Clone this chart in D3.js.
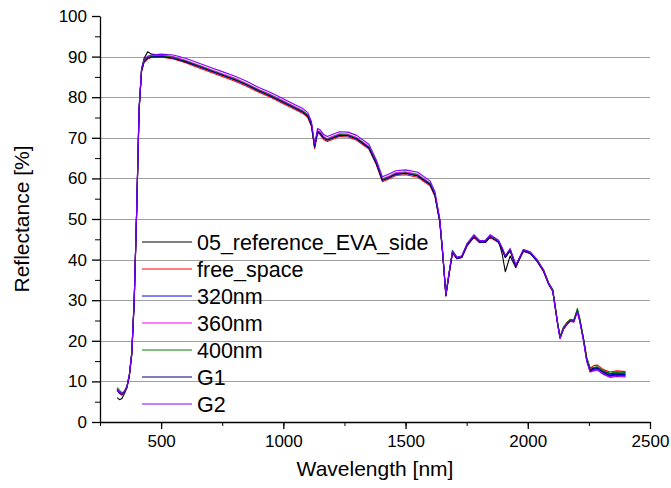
<!DOCTYPE html>
<html>
<head>
<meta charset="utf-8">
<script src="https://cdn.jsdelivr.net/npm/d3@7"></script>
<style>
  html, body { margin: 0; padding: 0; background: #fff; }
  svg { display: block; font-family: "Liberation Sans", Arial, sans-serif; }
  .grid line { stroke: #a0a0a0; stroke-width: 1; }
  .axis path, .axis line { stroke: #000; }
  .axis text { fill: #000; font-size: 17px; font-family: "Liberation Sans", Arial, sans-serif; }
</style>
</head>
<body>
<svg id="chart" width="671" height="488"></svg>
<script>
// wavelength grid shared by all spectra [nm]
const wavelengths = [
  320, 330, 340, 350, 360, 370, 380, 390, 400, 410,
  420, 430, 445, 460, 500, 550, 600, 650, 700, 750,
  800, 850, 900, 950, 1000, 1050, 1080, 1100, 1115, 1128,
  1140, 1150, 1165, 1180, 1200, 1230, 1265, 1300, 1350, 1380,
  1405, 1430, 1460, 1500, 1550, 1600, 1620, 1640, 1652, 1665,
  1678, 1692, 1710, 1730, 1752, 1780, 1803, 1826, 1846, 1880,
  1895, 1908, 1928, 1951, 1982, 2010, 2037, 2064, 2085, 2102,
  2112, 2122, 2132, 2146, 2162, 2175, 2188, 2203, 2213, 2228,
  2241, 2255, 2270, 2285, 2310, 2336, 2364, 2400
];

// reflectance [%] per sample
const refEvaSide = [
  6.0, 5.5, 5.8, 7.0, 8.4, 11.2, 16.5, 29.5, 51.5, 77.0,
  87.0, 89.5, 91.2, 90.6, 90.3, 89.8, 88.9, 87.8, 86.7, 85.6,
  84.5, 83.2, 81.7, 80.4, 78.9, 77.4, 76.5, 75.5, 73.3, 67.9,
  71.6, 71.3, 70.1, 69.6, 70.1, 70.8, 70.7, 69.9, 67.7, 63.9,
  59.7, 60.3, 61.2, 61.4, 60.8, 58.7, 56.1, 49.6, 41.6, 31.3,
  36.6, 42.0, 40.4, 40.7, 43.8, 45.9, 44.5, 44.5, 45.9, 44.6,
  41.5, 37.0, 40.9, 38.0, 42.4, 41.8, 40.0, 37.5, 34.3, 32.6,
  28.6, 24.5, 20.9, 23.2, 24.5, 25.2, 25.0, 27.6, 25.2, 20.5,
  15.6, 12.9, 13.3, 13.5, 12.5, 11.9, 12.1, 12.0
];
const freeSpace = [
  7.8, 7.0, 6.6, 7.2, 8.5, 11.3, 16.8, 29.8, 51.8, 76.8,
  86.3, 88.5, 89.4, 89.8, 89.9, 89.4, 88.5, 87.3, 86.2, 85.1,
  84.0, 82.7, 81.2, 79.9, 78.4, 76.9, 76.0, 75.0, 72.8, 67.3,
  71.1, 70.8, 69.6, 69.1, 69.6, 70.3, 70.2, 69.4, 67.2, 63.4,
  59.2, 59.8, 60.7, 60.9, 60.3, 58.2, 55.6, 49.2, 41.2, 31.0,
  36.3, 41.6, 40.2, 40.5, 43.4, 45.5, 44.2, 44.2, 45.5, 44.2,
  42.5, 40.5, 42.2, 38.3, 42.0, 41.5, 39.6, 37.1, 33.9, 32.2,
  28.2, 24.2, 20.9, 23.4, 24.6, 25.2, 24.9, 27.3, 25.0, 20.5,
  15.8, 13.2, 13.9, 14.0, 12.9, 12.3, 12.6, 12.4
];
const nm320 = [
  8.0, 7.2, 6.9, 7.4, 8.6, 11.5, 17.0, 30.0, 52.0, 77.0,
  86.5, 88.8, 89.7, 90.0, 90.1, 89.7, 88.8, 87.7, 86.6, 85.5,
  84.4, 83.1, 81.6, 80.3, 78.8, 77.3, 76.4, 75.4, 73.2, 67.8,
  71.5, 71.2, 70.0, 69.5, 70.0, 70.7, 70.6, 69.8, 67.6, 63.8,
  59.6, 60.2, 61.1, 61.3, 60.7, 58.6, 56.0, 49.5, 41.5, 31.2,
  36.5, 41.8, 40.3, 40.6, 43.6, 45.7, 44.3, 44.3, 45.7, 44.4,
  42.6, 40.6, 42.3, 38.4, 42.2, 41.6, 39.8, 37.3, 34.1, 32.4,
  28.4, 24.3, 20.8, 23.0, 24.3, 25.0, 24.8, 27.4, 25.0, 20.3,
  15.4, 12.7, 13.2, 13.4, 12.3, 11.6, 11.8, 11.7
];
const nm360 = [
  8.2, 7.4, 7.0, 7.5, 8.7, 11.6, 17.1, 30.2, 52.3, 77.3,
  86.8, 89.0, 89.9, 90.2, 90.4, 90.0, 89.1, 88.0, 86.9, 85.8,
  84.7, 83.4, 81.9, 80.6, 79.1, 77.6, 76.7, 75.7, 73.5, 68.0,
  71.8, 71.5, 70.3, 69.8, 70.3, 71.0, 70.9, 70.1, 67.9, 64.1,
  59.9, 60.5, 61.4, 61.6, 61.0, 58.9, 56.3, 49.7, 41.6, 31.2,
  36.6, 42.0, 40.5, 40.8, 43.8, 45.9, 44.6, 44.6, 45.9, 44.6,
  42.8, 40.8, 42.5, 38.5, 42.3, 41.7, 39.9, 37.3, 34.1, 32.3,
  28.3, 24.2, 20.6, 22.9, 24.2, 25.0, 24.7, 27.3, 24.8, 20.1,
  15.1, 12.4, 12.8, 12.9, 11.8, 11.2, 11.4, 11.3
];
const nm400 = [
  8.5, 7.8, 7.2, 7.6, 8.8, 11.7, 17.2, 30.1, 52.1, 77.2,
  86.6, 88.9, 89.8, 90.1, 90.2, 89.8, 88.9, 87.8, 86.7, 85.6,
  84.5, 83.2, 81.7, 80.4, 78.9, 77.4, 76.5, 75.5, 73.3, 67.9,
  71.6, 71.3, 70.1, 69.6, 70.1, 70.8, 70.7, 69.9, 67.7, 63.9,
  59.7, 60.3, 61.2, 61.4, 60.8, 58.7, 56.1, 49.6, 41.6, 31.4,
  36.8, 42.3, 40.6, 40.9, 43.9, 46.1, 44.7, 44.7, 46.0, 44.7,
  42.9, 40.9, 42.6, 38.6, 42.4, 41.8, 40.0, 37.5, 34.3, 32.6,
  28.6, 24.5, 21.0, 23.3, 24.6, 25.3, 25.1, 28.0, 25.4, 20.6,
  15.9, 13.4, 13.5, 13.6, 12.6, 12.0, 12.3, 12.2
];
const g1 = [
  7.9, 7.1, 6.8, 7.3, 8.5, 11.4, 16.9, 29.9, 51.9, 76.9,
  86.4, 88.7, 89.6, 89.9, 90.0, 89.6, 88.7, 87.6, 86.5, 85.4,
  84.3, 83.0, 81.5, 80.2, 78.7, 77.2, 76.3, 75.3, 73.1, 67.7,
  71.4, 71.1, 69.9, 69.4, 69.9, 70.6, 70.5, 69.7, 67.5, 63.7,
  59.5, 60.1, 61.0, 61.2, 60.6, 58.5, 55.9, 49.4, 41.4, 31.1,
  36.4, 41.7, 40.2, 40.5, 43.5, 45.6, 44.2, 44.2, 45.6, 44.3,
  42.5, 40.5, 42.2, 38.3, 42.1, 41.5, 39.7, 37.2, 34.0, 32.3,
  28.3, 24.2, 20.7, 22.9, 24.2, 24.9, 24.7, 27.3, 24.9, 20.2,
  15.3, 12.5, 13.0, 13.2, 12.1, 11.4, 11.6, 11.5
];
const g2 = [
  8.1, 7.3, 7.0, 7.5, 8.7, 11.6, 17.1, 30.2, 52.4, 77.6,
  87.0, 89.2, 90.1, 90.4, 90.6, 90.4, 89.6, 88.5, 87.4, 86.3,
  85.2, 83.9, 82.4, 81.1, 79.6, 78.1, 77.2, 76.2, 74.0, 68.5,
  72.3, 72.0, 70.8, 70.3, 70.8, 71.5, 71.4, 70.6, 68.4, 64.6,
  60.4, 61.0, 61.9, 62.1, 61.5, 59.4, 56.8, 50.1, 41.9, 31.4,
  36.8, 42.1, 40.6, 40.9, 44.0, 46.1, 44.7, 44.7, 46.1, 44.8,
  43.0, 41.0, 42.7, 38.7, 42.5, 41.9, 40.1, 37.5, 34.2, 32.4,
  28.3, 24.1, 20.5, 22.8, 24.1, 24.8, 24.6, 27.2, 24.7, 19.9,
  15.0, 12.3, 12.6, 12.8, 11.7, 11.0, 11.2, 11.1
];

const seriesNames = ["05_reference_EVA_side", "free_space", "320nm", "360nm", "400nm", "G1", "G2"];
const seriesValues = [refEvaSide, freeSpace, nm320, nm360, nm400, g1, g2];
const seriesColors = ["#000000", "#ff0000", "#0000ff", "#ff00ff", "#008000", "#000080", "#8000ff"];

const xTicks = [500, 1000, 1500, 2000, 2500];
const yTicks = [0, 10, 20, 30, 40, 50, 60, 70, 80, 90, 100];

const svg = d3.select("#chart");
const plot = { left: 100, right: 650, top: 16, bottom: 422 };

const x = d3.scaleLinear().domain([250, 2500]).range([plot.left, plot.right]);
const y = d3.scaleLinear().domain([0, 100]).range([plot.bottom, plot.top]);

// horizontal grid lines
svg.append("g")
  .attr("class", "grid")
  .selectAll("line")
  .data(yTicks.filter(d => d > 0 && d < 100))
  .join("line")
  .attr("x1", plot.left)
  .attr("x2", plot.right)
  .attr("y1", d => Math.round(y(d)) + 0.5)
  .attr("y2", d => Math.round(y(d)) + 0.5);

// spectra
const line = d3.line()
  .x(d => x(d[0]))
  .y(d => y(d[1]));

svg.append("g")
  .selectAll("path")
  .data(seriesValues.map((vals, i) => ({ color: seriesColors[i], pts: wavelengths.map((w, j) => [w, vals[j]]) })))
  .join("path")
  .attr("fill", "none")
  .attr("stroke", d => d.color)
  .attr("stroke-width", 1.1)
  .attr("stroke-linejoin", "round")
  .attr("d", d => line(d.pts));

// minor ticks first, then the labelled axes on top
svg.append("g")
  .attr("class", "axis")
  .attr("transform", `translate(0,${plot.bottom})`)
  .call(d3.axisBottom(x).tickValues(d3.range(250, 2501, 250)).tickSize(4).tickFormat(""))
  .call(g => g.select(".domain").remove());

svg.append("g")
  .attr("class", "axis")
  .attr("transform", `translate(${plot.left},0)`)
  .call(d3.axisLeft(y).tickValues(d3.range(5, 100, 10)).tickSize(5).tickFormat(""))
  .call(g => g.select(".domain").remove());

svg.append("g")
  .attr("class", "axis")
  .attr("transform", `translate(0,${plot.bottom})`)
  .call(d3.axisBottom(x).tickValues(xTicks).tickSize(7).tickSizeOuter(0).tickPadding(6).tickFormat(d3.format("d")))
  .call(g => g.selectAll("path, line").attr("stroke-width", 1.3));

svg.append("g")
  .attr("class", "axis")
  .attr("transform", `translate(${plot.left},0)`)
  .call(d3.axisLeft(y).tickValues(yTicks).tickSize(8).tickSizeOuter(0).tickPadding(5).tickFormat(d3.format("d")))
  .call(g => g.selectAll("path, line").attr("stroke-width", 1.3));

// axis titles
svg.append("text")
  .attr("x", (plot.left + plot.right) / 2)
  .attr("y", 476)
  .attr("text-anchor", "middle")
  .attr("font-size", 21)
  .text("Wavelength [nm]");

svg.append("text")
  .attr("transform", "translate(29,219) rotate(-90)")
  .attr("text-anchor", "middle")
  .attr("font-size", 21)
  .text("Reflectance [%]");

// legend
const legend = svg.append("g").attr("transform", "translate(142,242)");
const rows = legend.selectAll("g")
  .data(seriesNames)
  .join("g")
  .attr("transform", (d, i) => `translate(0,${i * 27})`);

rows.append("line")
  .attr("x1", 0).attr("x2", 50)
  .attr("y1", 0).attr("y2", 0)
  .attr("stroke", (d, i) => seriesColors[i])
  .attr("stroke-width", 1);

rows.append("text")
  .attr("x", 55)
  .attr("y", 8)
  .attr("font-size", 21.5)
  .text(d => d);
</script>
</body>
</html>
